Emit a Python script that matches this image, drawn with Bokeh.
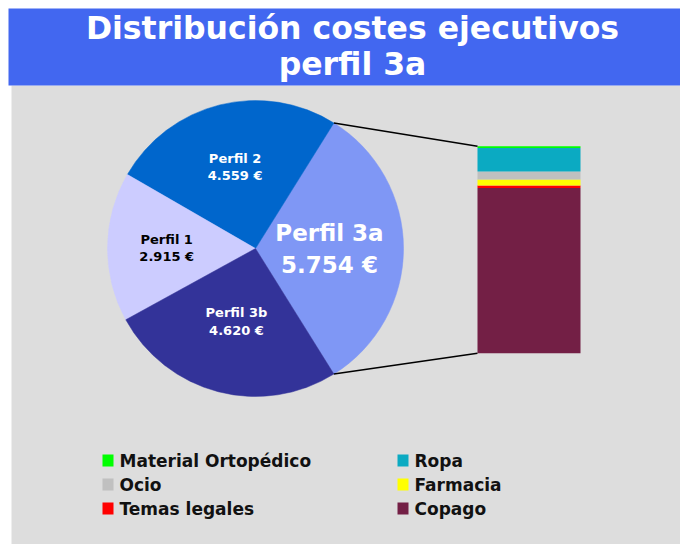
import numpy as np
from bokeh.plotting import figure
from bokeh.core.properties import value
from bokeh.embed import file_html
from bokeh.resources import INLINE

# ---- data ----
title_lines = ["Distribución costes ejecutivos", "perfil 3a"]

profiles = ["Perfil 3a", "Perfil 2", "Perfil 1", "Perfil 3b"]
profile_values = [5754, 4559, 2915, 4620]
profile_value_labels = ["5.754 €", "4.559 €", "2.915 €", "4.620 €"]
profile_colors = ["#7F97F5", "#0066CC", "#CCCCFF", "#333399"]
profile_text_colors = ["white", "white", "black", "white"]

bar_categories = ["Copago", "Temas legales", "Farmacia", "Ocio", "Ropa", "Material Ortopédico"]
bar_values = [4595, 64, 167, 222, 659, 47]
bar_colors = ["#731F45", "#FF0000", "#FFFF00", "#C0C0C0", "#0BAAC2", "#00FF00"]

legend_order = [["Material Ortopédico", "Ropa"],
                ["Ocio", "Farmacia"],
                ["Temas legales", "Copago"]]

# ---- layout ----
W, H = 680, 544
FONT = value("DejaVu Sans")

p = figure(width=W, height=H, x_range=(0, W), y_range=(0, H),
           output_backend="svg", toolbar_location=None, min_border=0,
           x_axis_location=None, y_axis_location=None)
p.grid.visible = False
p.outline_line_color = None
p.background_fill_color = "white"
p.border_fill_color = "white"

# backgrounds
p.quad(left=11, right=W, bottom=0, top=459, fill_color="#DDDDDD", line_color=None)
p.quad(left=8, right=W, bottom=459, top=536, fill_color="#4267F0", line_color=None)

# title
p.text(x=[352, 352], y=[517, 481], text=title_lines, text_color="white",
       text_font=FONT, text_font_style="bold", text_font_size="31.5px",
       text_align="center", text_baseline="middle")

# pie
cx, cy, r = 255, 296, 148
vals = np.array(profile_values, dtype=float)
angles = vals / vals.sum() * 2 * np.pi
start0 = -angles[0] / 2
starts = start0 + np.concatenate([[0], np.cumsum(angles)[:-1]])
ends = starts + angles
p.wedge(x=cx, y=cy, radius=r, start_angle=starts, end_angle=ends,
        fill_color=profile_colors, line_color=profile_colors, line_width=0.5)

# pie labels
mids = (starts + ends) / 2
label_r = [0.50, 0.57, 0.60, 0.51]
sizes = ["23px", "13px", "13px", "13px"]
gaps = [16, 8.5, 8.5, 9]
for i in range(len(profiles)):
    lx = cx + label_r[i] * r * np.cos(mids[i])
    ly = cy + label_r[i] * r * np.sin(mids[i])
    p.text(x=[lx, lx], y=[ly + gaps[i], ly - gaps[i]],
           text=[profiles[i], profile_value_labels[i]],
           text_color=profile_text_colors[i], text_font=FONT,
           text_font_style="bold", text_font_size=sizes[i],
           text_align="center", text_baseline="middle")

# stacked bar
bx0, bx1 = 477, 580
by0, bh = 191.3, 207.0
bv = np.array(bar_values, dtype=float)
scale = bh / bv.sum()
tops = by0 + np.cumsum(bv) * scale
bottoms = tops - bv * scale
p.quad(left=bx0, right=bx1, bottom=bottoms, top=tops,
       fill_color=bar_colors, line_color=None)

# connector lines
a_top, a_bot = ends[0], starts[0]
p.segment(x0=[cx + r * np.cos(a_top), cx + r * np.cos(a_bot)],
          y0=[cy + r * np.sin(a_top), cy + r * np.sin(a_bot)],
          x1=[bx0, bx0], y1=[tops[-1], bottoms[0]],
          line_color="black", line_width=1.5)

# legend
color_of = dict(zip(bar_categories, bar_colors))
col_x = [102, 397]
row_y = [84, 60, 36]
for ri, row in enumerate(legend_order):
    for ci, name in enumerate(row):
        p.rect(x=col_x[ci] + 5.5, y=row_y[ri], width=11, height=12,
               fill_color=color_of[name], line_color=None)
        p.text(x=[col_x[ci] + 17], y=[row_y[ri]], text=[name], text_color="#111111",
               text_font=FONT, text_font_style="bold", text_font_size="17px",
               text_align="left", text_baseline="middle")

open("out.html", "w").write(file_html(p, INLINE))
